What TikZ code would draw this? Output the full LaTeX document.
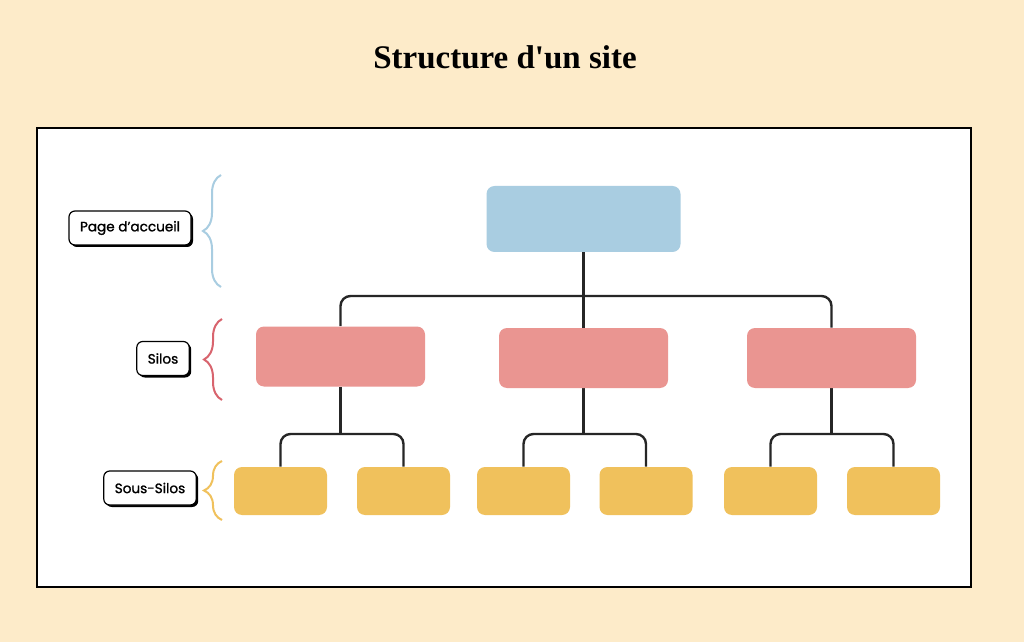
\documentclass[tikz,border=0pt]{standalone}
\usepackage{fontspec}
\setmainfont{Liberation Serif}
\newfontfamily\labelfont{Poppins}[FakeBold=1.3]
\usetikzlibrary{decorations.pathreplacing,shadows}

\definecolor{creme}{HTML}{FDEBC9}
\definecolor{homeblue}{HTML}{A9CDE1}
\definecolor{silopink}{HTML}{EA9591}
\definecolor{bracepink}{HTML}{D8646E}
\definecolor{subyellow}{HTML}{F0C15C}

\pgfdeclarelayer{back}
\pgfdeclarelayer{mid}
\pgfsetlayers{back,mid,main}

\tikzset{
    homebox/.style={fill=homeblue, rounded corners=4pt, minimum width=97pt, minimum height=33pt, inner sep=0pt},
    silobox/.style={fill=silopink, rounded corners=4pt, minimum width=84.5pt, minimum height=30pt, inner sep=0pt},
    subbox/.style={fill=subyellow, rounded corners=4pt, minimum width=46.5pt, minimum height=24pt, inner sep=0pt},
    link/.style={draw=black!85, line width=1.2pt},
    tag/.style={draw=black, line width=0.6pt, fill=white, rounded corners=3pt,
        font=\labelfont\fontsize{6.8}{8}\selectfont, minimum height=17pt, inner xsep=5.5pt,
        drop shadow={shadow xshift=1pt, shadow yshift=-1pt, opacity=1, fill=black}},
    levelbrace/.style={decorate, decoration={brace, amplitude=9pt}, line width=1pt},
}

\begin{document}
\begin{tikzpicture}[x=0.5pt,y=-0.5pt]
        \useasboundingbox (0,0) rectangle (1024,642);

        \begin{pgfonlayer}{back}
            \fill[creme] (0,0) rectangle (1024,642);
            \draw[line width=1pt, fill=white] (37,128) rectangle (971,587);
        \end{pgfonlayer}

        \node[font=\bfseries\fontsize{16.5}{19}\selectfont] (title) at (505,57) {Structure d\textquotesingle un site};

        % levels
        \node[homebox] (home) at (583.5,219) {};
        \foreach \n/\x/\y in {1/340.5/356.5, 2/583.5/358, 3/831.5/358} {
            \node[silobox] (silo\n) at (\x,\y) {};
            \coordinate (split\n) at (\x,434);
        }
        \foreach \n/\x in {11/280.5, 12/403.5, 21/523.5, 22/646, 31/770.5, 32/893.5} {
            \node[subbox] (sub\n) at (\x,491) {};
        }
        \coordinate (split0) at (583.5,296);

        % connectors
        \begin{pgfonlayer}{mid}
            \draw[link] (home) -- (silo2);
            \draw[link, rounded corners=5pt] (silo1) |- (split0) -| (silo3);
            \foreach \n in {1,2,3} {
                \draw[link] (silo\n) -- (split\n);
                \draw[link, rounded corners=5pt] (sub\n1) |- (split\n) -| (sub\n2);
            }
        \end{pgfonlayer}

        % labels
        \node[tag] (homelabel) at (130,228) {Page d’accueil};
        \node[tag] (silolabel) at (163,358.5) {Silos};
        \node[tag] (sublabel) at (150,488) {Sous-Silos};

        \draw[levelbrace, homeblue] (221,287) -- (221,175);
        \draw[levelbrace, bracepink] (222,400) -- (222,319);
        \draw[levelbrace, subyellow] (222,520) -- (222,461);

\end{tikzpicture}
\end{document}
